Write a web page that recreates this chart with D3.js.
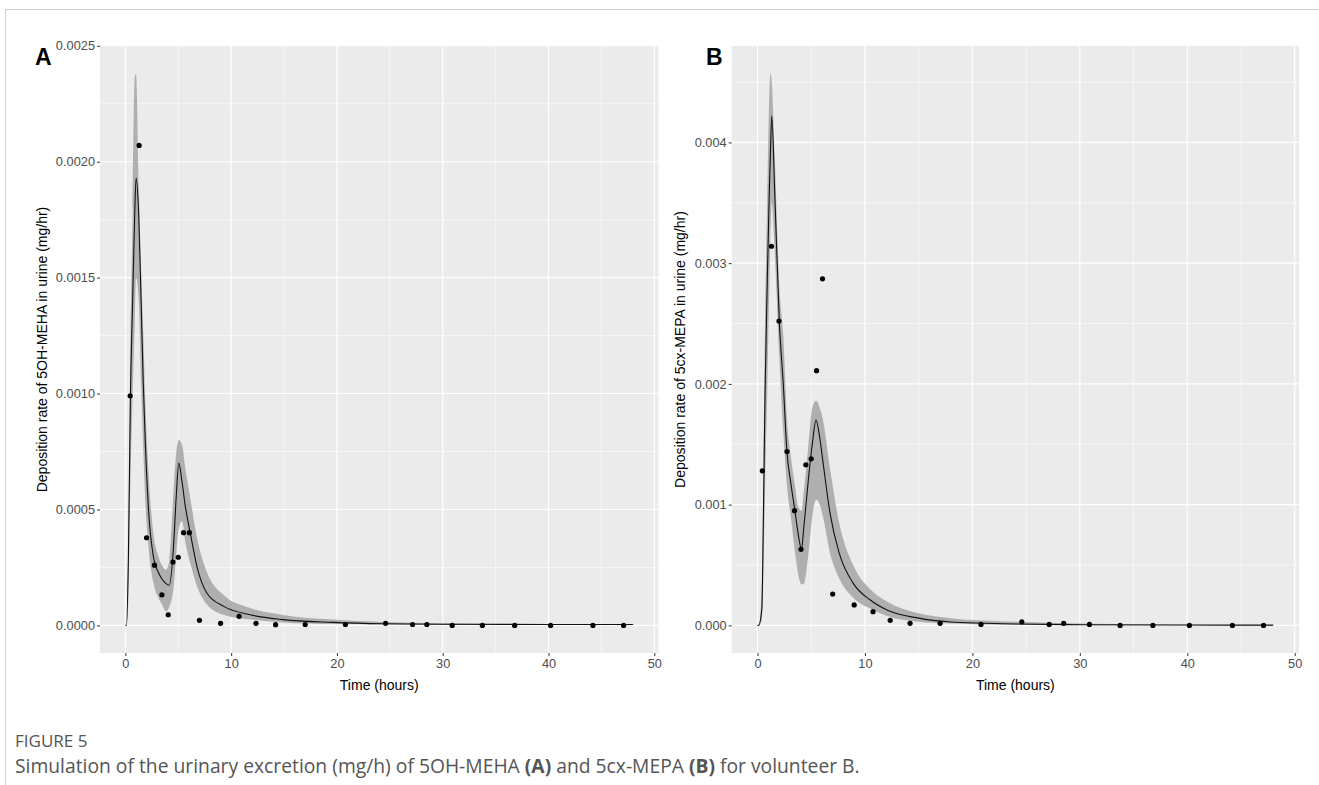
<!DOCTYPE html>
<html>
<head>
<meta charset="utf-8">
<script src="https://cdn.jsdelivr.net/npm/d3@7"></script>
<style>
  body { margin: 0; background: #fff; }
  svg { display: block; }
</style>
</head>
<body>
<svg width="1319" height="785"></svg>
<script>
// measured urine samples (hours), same sampling times for both metabolites
const obsTime = [0.45, 1.3, 2.0, 2.75, 3.45, 4.05, 4.5, 5.0, 5.5, 6.05, 7.0, 9.0, 10.75, 12.35, 14.2, 17.0,
  20.8, 24.6, 27.15, 28.5, 30.9, 33.75, 36.8, 40.2, 44.2, 47.1];
const obsA = [0.00099, 0.00207, 0.000378, 0.00026, 0.000132, 0.000046, 0.000273, 0.000294, 0.0004, 0.0004,
  0.000022, 0.000009, 0.000039, 0.000009, 0.000003, 0.000004, 0.000004, 0.000009, 0.000004, 0.000004,
  0, 0, 0, 0, 0, 0];
const obsB = [0.00128, 0.00314, 0.00252, 0.00144, 0.00095, 0.00063, 0.00133, 0.00138, 0.00211, 0.00287,
  0.00026, 0.00017, 0.000114, 0.000042, 0.000017, 0.000017, 0.000008, 0.00003, 0.000008, 0.000017,
  0.000008, 0, 0, 0, 0, 0];

// simulated curve + band, 5OH-MEHA
const simTimeA = [0, 0.1, 0.28, 0.47, 0.69, 0.88, 1.01, 1.26, 1.48, 1.7, 1.9, 2.2, 2.67, 3.1, 3.46, 3.85,
  4.15, 4.55, 4.8, 5.05, 5.35, 5.66, 6.13, 6.76, 7.7, 9.3, 11.8, 14.9, 19.6, 24.4, 30, 40, 48];
const simA = [0, 0, 0.00028, 0.00097, 0.00141, 0.00177, 0.00193, 0.00177, 0.00141, 0.00103, 0.00077, 0.00049,
  0.00029, 0.00023, 0.0002, 0.00018, 0.000173, 0.00034, 0.00055, 0.0007, 0.00062, 0.000515, 0.0004,
  0.000255, 0.00014, 0.000082, 0.000046, 0.000025, 0.000013, 0.000007, 0.000005, 0.000004, 0.000004];
const simLoA = [0, 0, 0.0001, 0.0006, 0.001, 0.0013, 0.0015, 0.0014, 0.00105, 0.00075, 0.00052, 0.00033,
  0.00018, 0.00012, 0.00009, 0.00006, 0.00008, 0.00016, 0.0003, 0.00042, 0.00045, 0.00036, 0.00027,
  0.00017, 0.00009, 0.000045, 0.000025, 0.000013, 0.000006, 0.000004, 0.000003, 0.000003, 0.000003];
const simHiA = [0, 0, 0.0004, 0.0012, 0.0018, 0.00236, 0.00238, 0.0019, 0.00155, 0.00125, 0.00095, 0.00065,
  0.00039, 0.0003, 0.00026, 0.00024, 0.00028, 0.00058, 0.00074, 0.0008, 0.00078, 0.00068, 0.00055,
  0.00038, 0.00023, 0.00013, 0.000075, 0.000045, 0.000025, 0.000015, 0.000009, 0.000005, 0.000005];

// simulated curve + band, 5cx-MEPA
const simTimeB = [0, 0.1, 0.4, 0.55, 0.7, 0.9, 1.1, 1.2, 1.33, 1.6, 2.04, 2.4, 2.75, 3.1, 3.5, 3.8, 4.1, 4.3,
  4.75, 5.1, 5.45, 5.8, 6.1, 6.75, 7.6, 8.9, 10.5, 12, 15, 18, 21, 24, 30, 40, 48];
const simB = [0, 0, 0.00013, 0.0009, 0.0019, 0.0028, 0.0036, 0.0039, 0.00422, 0.0036, 0.0025, 0.002, 0.00143,
  0.00118, 0.00094, 0.00075, 0.00063, 0.0008, 0.00122, 0.0015, 0.0017, 0.00155, 0.00135, 0.00093, 0.0006,
  0.00035, 0.00021, 0.00013, 0.00006, 0.000028, 0.000018, 0.000012, 0.000006, 0.000003, 0.000002];
const simLoB = [0, 0, 0.00005, 0.0004, 0.0011, 0.0019, 0.0028, 0.0032, 0.0035, 0.0031, 0.0022, 0.0016, 0.00115,
  0.0009, 0.0006, 0.00042, 0.00034, 0.00034, 0.0006, 0.0009, 0.00104, 0.001, 0.0009, 0.0006, 0.00039,
  0.00023, 0.00014, 0.00008, 0.00003, 0.000015, 0.000008, 0.000005, 0.000003, 0.000001, 0.000001];
const simHiB = [0, 0, 0.0003, 0.0013, 0.0025, 0.0035, 0.0044, 0.00457, 0.0045, 0.0039, 0.0028, 0.0024, 0.0017,
  0.0014, 0.00115, 0.00098, 0.00095, 0.0011, 0.0015, 0.0018, 0.00186, 0.0018, 0.0017, 0.0013, 0.00085,
  0.0005, 0.0003, 0.0002, 0.0001, 0.00006, 0.00004, 0.00003, 0.000015, 0.000006, 0.000004];

const xTicks = [0, 10, 20, 30, 40, 50];
const yTicksA = [0, 0.0005, 0.001, 0.0015, 0.002, 0.0025];
const yTicksB = [0, 0.001, 0.002, 0.003, 0.004];

let svg = d3.select("svg");
const font = "'Liberation Sans', Arial, sans-serif";

// figure frame (top + left rule)
svg.append("line").attr("x1", 5).attr("x2", 1319).attr("y1", 9.5).attr("y2", 9.5)
  .style("stroke", "#d0d0d0");
svg.append("line").attr("x1", 5.5).attr("x2", 5.5).attr("y1", 9).attr("y2", 785)
  .style("stroke", "#d0d0d0");

// ggplot style 5% expansion
function expand(ext) {
  let pad = (ext[1] - ext[0]) * 0.05;
  return [ext[0] - pad, ext[1] + pad];
}

// minor breaks halfway between majors
function minors(ticks, domain) {
  let step = ticks[1] - ticks[0];
  let out = [];
  for (let i = -1; i < ticks.length; i++) {
    let v = ticks[0] + step * (i + 0.5);
    if (v > domain[0] && v < domain[1]) out.push(v);
  }
  return out;
}

function drawPanel(p) {
  let top = 46, bottom = 653;
  let x = d3.scaleLinear().domain(expand(d3.extent(p.simTime))).range([p.left, p.right]);
  let yExt = d3.extent(p.lo.concat(p.hi, p.obs));
  let y = d3.scaleLinear().domain(expand(yExt)).range([bottom, top]);

  let g = svg.append("g");

  g.append("rect")
    .attr("x", p.left).attr("y", top)
    .attr("width", p.right - p.left).attr("height", bottom - top)
    .attr("fill", "#ebebeb");

  // grid
  g.append("g").selectAll("line")
    .data(minors(p.yTicks, y.domain()))
    .enter().append("line")
    .attr("x1", p.left).attr("x2", p.right)
    .attr("y1", (d) => y(d)).attr("y2", (d) => y(d))
    .style("stroke", "#fff").attr("stroke-width", 0.55);
  g.append("g").selectAll("line")
    .data(minors(xTicks, x.domain()))
    .enter().append("line")
    .attr("y1", top).attr("y2", bottom)
    .attr("x1", (d) => x(d)).attr("x2", (d) => x(d))
    .style("stroke", "#fff").attr("stroke-width", 0.55);
  g.append("g").selectAll("line")
    .data(p.yTicks)
    .enter().append("line")
    .attr("x1", p.left).attr("x2", p.right)
    .attr("y1", (d) => y(d)).attr("y2", (d) => y(d))
    .style("stroke", "#fff").attr("stroke-width", 1.1);
  g.append("g").selectAll("line")
    .data(xTicks)
    .enter().append("line")
    .attr("y1", top).attr("y2", bottom)
    .attr("x1", (d) => x(d)).attr("x2", (d) => x(d))
    .style("stroke", "#fff").attr("stroke-width", 1.1);

  let sim = p.simTime.map((t, i) => ({ t: t, v: p.sim[i], lo: p.lo[i], hi: p.hi[i] }));

  let band = d3.area()
    .curve(d3.curveMonotoneX)
    .x((d) => x(d.t))
    .y0((d) => y(d.lo))
    .y1((d) => y(d.hi));
  g.append("path").datum(sim).attr("d", band).attr("fill", "#afafaf");

  let line = d3.line().curve(d3.curveMonotoneX).x((d) => x(d.t)).y((d) => y(d.v));
  g.append("path").datum(sim).attr("d", line)
    .attr("fill", "none").style("stroke", "#111").attr("stroke-width", 1.1);

  g.append("g").selectAll("circle")
    .data(obsTime.map((t, i) => ({ t: t, v: p.obs[i] })))
    .enter().append("circle")
    .attr("cx", (d) => x(d.t)).attr("cy", (d) => y(d.v))
    .attr("r", 2.6).attr("fill", "#000");

  // axes
  let xAxis = g.append("g").attr("transform", `translate(0,${bottom})`)
    .call(d3.axisBottom(x).tickValues(xTicks).tickSize(3).tickPadding(3));
  let yAxis = g.append("g").attr("transform", `translate(${p.left},0)`)
    .call(d3.axisLeft(y).tickValues(p.yTicks).tickSize(3).tickPadding(2).tickFormat(d3.format(p.fmt)));
  [xAxis, yAxis].forEach((a) => {
    a.select(".domain").remove();
    a.selectAll(".tick line").style("stroke", "#333");
    a.selectAll(".tick text").style("fill", "#4d4d4d")
      .style("font-family", font).style("font-size", "12.8px");
  });

  g.append("text")
    .attr("x", (p.left + p.right) / 2).attr("y", 690)
    .attr("text-anchor", "middle")
    .style("font-family", font).style("font-size", "14px")
    .text("Time (hours)");

  g.append("text")
    .attr("transform", `translate(${p.titleX},${(top + bottom) / 2}) rotate(-90)`)
    .attr("text-anchor", "middle")
    .style("font-family", font).style("font-size", "14px")
    .text(p.yTitle);

  g.append("text")
    .attr("x", p.tagX).attr("y", 65)
    .style("font-family", font).style("font-size", "23px").style("font-weight", "bold")
    .text(p.tag);
}

drawPanel({
  tag: "A", tagX: 35, left: 100, right: 658.5, titleX: 47,
  simTime: simTimeA, sim: simA, lo: simLoA, hi: simHiA, obs: obsA,
  yTicks: yTicksA, fmt: ".4f",
  yTitle: "Deposition rate of 5OH-MEHA in urine (mg/hr)"
});
drawPanel({
  tag: "B", tagX: 706, left: 731.7, right: 1299, titleX: 685,
  simTime: simTimeB, sim: simB, lo: simLoB, hi: simHiB, obs: obsB,
  yTicks: yTicksB, fmt: ".3f",
  yTitle: "Deposition rate of 5cx-MEPA in urine (mg/hr)"
});

// caption
const capFont = "'Open Sans', 'Noto Sans', sans-serif";
svg.append("text")
  .attr("x", 15).attr("y", 747)
  .style("font-family", capFont).style("font-size", "17px").style("fill", "#555")
  .text("FIGURE 5");

let cap = svg.append("text")
  .attr("x", 15).attr("y", 773)
  .style("font-family", capFont).style("font-size", "19.3px").style("fill", "#555");
cap.append("tspan").text("Simulation of the urinary excretion (mg/h) of 5OH-MEHA ");
cap.append("tspan").style("font-weight", "bold").text("(A)");
cap.append("tspan").text(" and 5cx-MEPA ");
cap.append("tspan").style("font-weight", "bold").text("(B)");
cap.append("tspan").text(" for volunteer B.");
</script>
</body>
</html>
